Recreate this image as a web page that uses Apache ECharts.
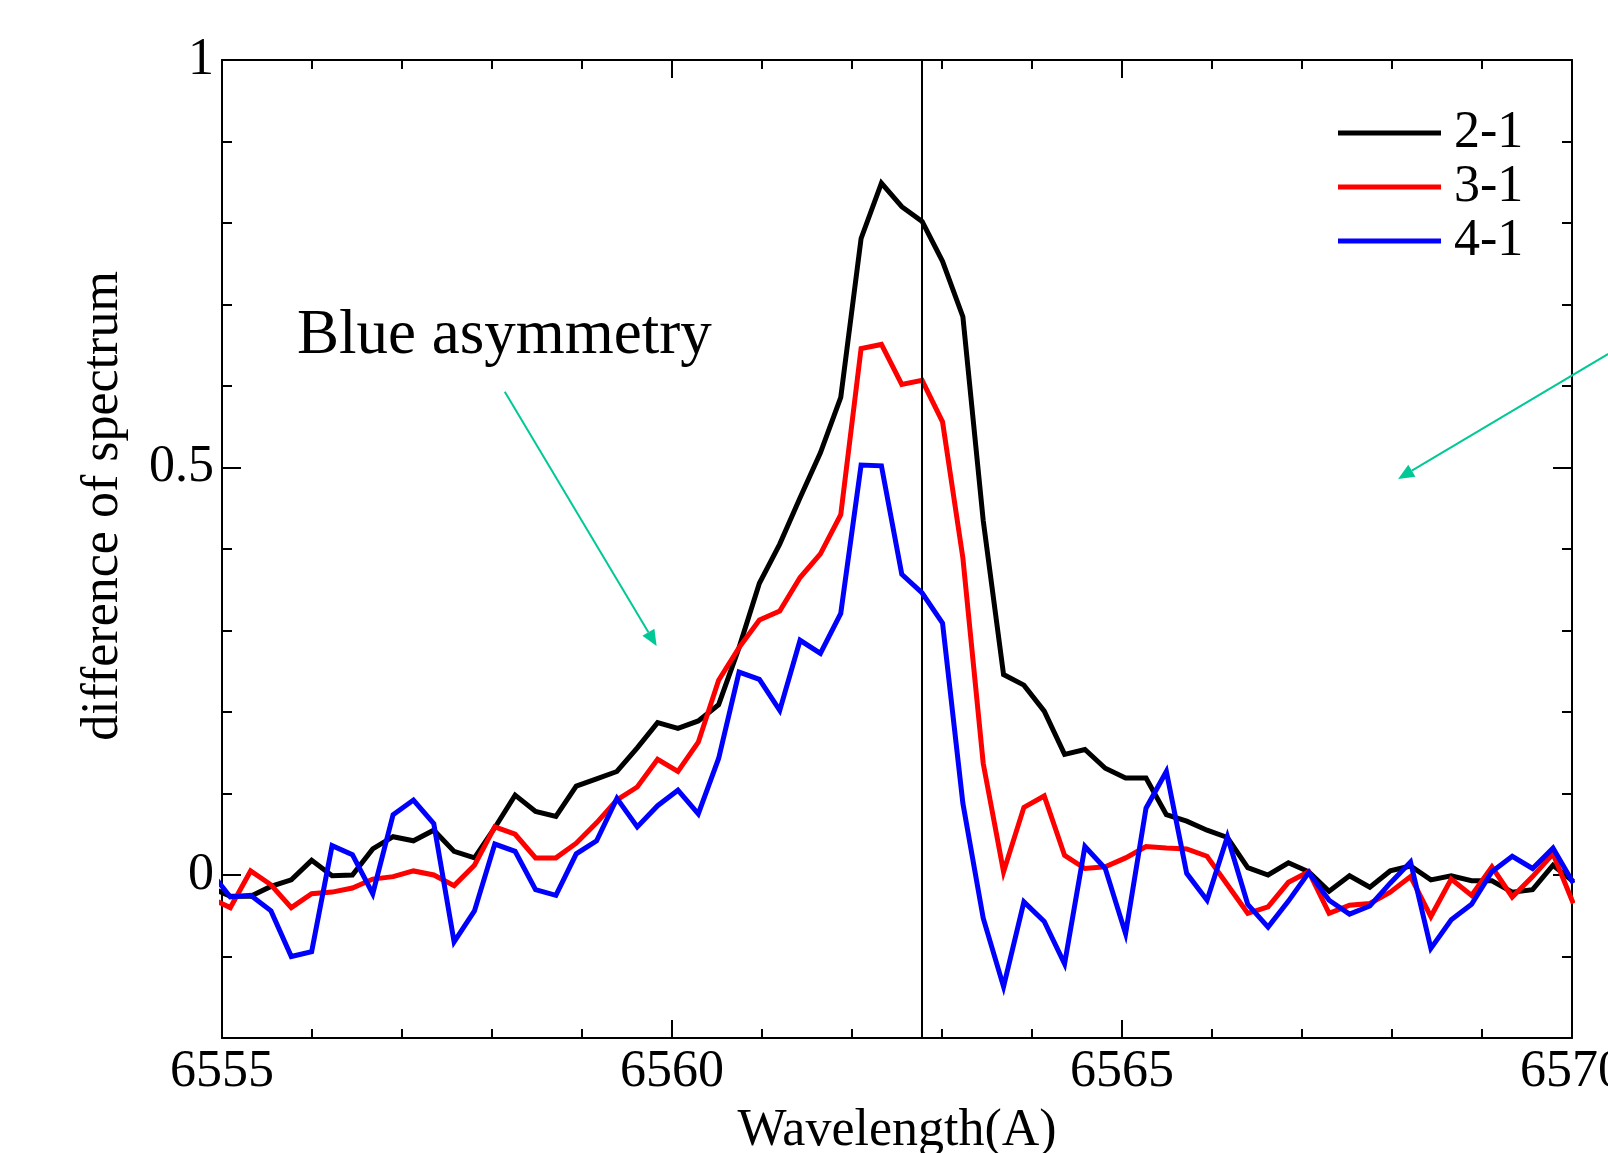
<!DOCTYPE html>
<html><head><meta charset="utf-8">
<script src="https://cdn.jsdelivr.net/npm/echarts@6/dist/echarts.min.js"></script>
<style>html,body{margin:0;padding:0;background:#fff;overflow:hidden}#c{width:1608px;height:1153px}</style>
</head><body><div id="c"></div>
<script>
// ---- data ----
const wavelength = [6554.866, 6555.092, 6555.318, 6555.544, 6555.770, 6555.996, 6556.223, 6556.449, 6556.675, 6556.901,
  6557.127, 6557.353, 6557.579, 6557.805, 6558.031, 6558.257, 6558.484, 6558.710, 6558.936, 6559.162,
  6559.388, 6559.614, 6559.840, 6560.066, 6560.292, 6560.518, 6560.745, 6560.971, 6561.197, 6561.423,
  6561.649, 6561.875, 6562.101, 6562.327, 6562.553, 6562.779, 6563.006, 6563.232, 6563.458, 6563.684,
  6563.910, 6564.136, 6564.362, 6564.588, 6564.814, 6565.040, 6565.267, 6565.493, 6565.719, 6565.945,
  6566.171, 6566.397, 6566.623, 6566.849, 6567.075, 6567.301, 6567.528, 6567.754, 6567.980, 6568.206,
  6568.432, 6568.658, 6568.884, 6569.110, 6569.336, 6569.562, 6569.789, 6570.015];
const diff21 = [-0.015, -0.026, -0.026, -0.014, -0.006, 0.018, -0.001, 0.000, 0.032, 0.047,
  0.042, 0.055, 0.029, 0.021, 0.058, 0.098, 0.078, 0.072, 0.109, 0.118,
  0.127, 0.156, 0.187, 0.180, 0.189, 0.209, 0.279, 0.358, 0.406, 0.463,
  0.518, 0.586, 0.781, 0.849, 0.820, 0.802, 0.753, 0.685, 0.435, 0.246,
  0.233, 0.201, 0.148, 0.154, 0.131, 0.119, 0.119, 0.074, 0.066, 0.055,
  0.046, 0.009, 0.000, 0.015, 0.004, -0.020, -0.001, -0.015, 0.005, 0.011,
  -0.006, -0.001, -0.007, -0.007, -0.021, -0.018, 0.012, -0.008];
const diff31 = [-0.028, -0.040, 0.005, -0.012, -0.040, -0.023, -0.021, -0.016, -0.005, -0.002,
  0.005, 0.000, -0.013, 0.012, 0.059, 0.050, 0.021, 0.021, 0.039, 0.064,
  0.092, 0.108, 0.142, 0.127, 0.163, 0.239, 0.279, 0.313, 0.324, 0.365,
  0.394, 0.442, 0.646, 0.651, 0.602, 0.607, 0.556, 0.389, 0.137, 0.004,
  0.083, 0.097, 0.024, 0.008, 0.010, 0.021, 0.035, 0.033, 0.032, 0.023,
  -0.012, -0.047, -0.039, -0.009, 0.004, -0.047, -0.037, -0.035, -0.021, -0.002,
  -0.051, -0.005, -0.025, 0.010, -0.027, -0.002, 0.026, -0.035];
const diff41 = [0.005, -0.027, -0.025, -0.044, -0.100, -0.094, 0.036, 0.025, -0.023, 0.074,
  0.092, 0.063, -0.082, -0.044, 0.038, 0.029, -0.018, -0.025, 0.026, 0.042,
  0.094, 0.059, 0.085, 0.104, 0.075, 0.143, 0.249, 0.240, 0.202, 0.288,
  0.272, 0.321, 0.503, 0.502, 0.369, 0.346, 0.309, 0.088, -0.053, -0.137,
  -0.033, -0.057, -0.109, 0.035, 0.008, -0.072, 0.082, 0.127, 0.002, -0.031,
  0.047, -0.036, -0.064, -0.032, 0.003, -0.031, -0.048, -0.038, -0.010, 0.016,
  -0.090, -0.055, -0.036, 0.004, 0.023, 0.008, 0.033, -0.010];
const seriesNames = ['2-1', '3-1', '4-1'];
const seriesColors = ['#000000', '#ff0000', '#0000ff'];
const yMajorLabels = [0, 0.5, 1];
const lineCenter = 6562.78;
const annotationText = 'Blue asymmetry';
// arrows in data coordinates: [startX, startY, tipX, tipY]
const arrows = [[6558.142, 0.593, 6559.829, 0.281], [6570.403, 0.6395, 6568.068, 0.486]];

const FONT = '"Liberation Serif", "Times New Roman", serif';
const X_MIN = 6555, X_MAX = 6570, Y_MIN = -0.2, Y_MAX = 1;

function xAxisCfg(pos, showLabels) {
  return {
    type: 'value', position: pos, min: X_MIN, max: X_MAX, interval: 5,
    name: showLabels ? 'Wavelength(A)' : '', nameLocation: 'middle', nameGap: 67,
    nameTextStyle: { fontFamily: FONT, fontSize: 52, color: '#000' },
    axisLine: { show: true, onZero: false, lineStyle: { color: '#000', width: 2 } },
    axisTick: { show: true, inside: true, length: 18, lineStyle: { color: '#000', width: 2 } },
    minorTick: { show: true, splitNumber: 5, length: 9, lineStyle: { color: '#000', width: 2 } },
    axisLabel: { show: showLabels, fontFamily: FONT, fontSize: 52, color: '#000', margin: 8,
      showMinLabel: true, showMaxLabel: true, formatter: v => String(Math.round(v)) },
    splitLine: { show: false }, minorSplitLine: { show: false }
  };
}
function yMajorCfg(pos, showLabels) {
  return {
    type: 'value', position: pos, min: Y_MIN, max: Y_MAX,
    name: showLabels ? 'difference of spectrum' : '', nameLocation: 'middle', nameGap: 93,
    nameTextStyle: { fontFamily: FONT, fontSize: 52, color: '#000', padding: [0, 0, 0, 86] },
    axisLine: { show: true, onZero: false, lineStyle: { color: '#000', width: 2 } },
    axisTick: { show: true, inside: true, length: 19, customValues: yMajorLabels, lineStyle: { color: '#000', width: 2 } },
    axisLabel: { show: showLabels, customValues: yMajorLabels, fontFamily: FONT, fontSize: 52, color: '#000', margin: 8,
      formatter: v => String(Math.round(v * 10) / 10) },
    splitLine: { show: false }
  };
}
function yMinorCfg(pos) {
  return {
    type: 'value', position: pos, min: Y_MIN, max: Y_MAX, interval: 0.1,
    axisLine: { show: false },
    axisTick: { show: true, inside: true, length: 10, lineStyle: { color: '#000', width: 2 } },
    axisLabel: { show: false }, splitLine: { show: false }
  };
}

const values = [diff21, diff31, diff41];
const series = seriesNames.map((n, si) => ({
  name: n, type: 'line', xAxisIndex: 0, yAxisIndex: 0,
  data: wavelength.map((w, i) => [w, values[si][i]]),
  showSymbol: false, symbol: 'none', clip: true, z: 3 + si,
  lineStyle: { color: seriesColors[si], width: 5, join: 'miter' },
  itemStyle: { color: seriesColors[si] },
  emphasis: { disabled: true },
  markLine: si === 0 ? {
    silent: true, symbol: ['none', 'none'], label: { show: false },
    lineStyle: { color: '#000', width: 2, type: 'solid' },
    data: [{ xAxis: lineCenter }], animation: false
  } : undefined
}));

const chart = echarts.init(document.getElementById('c'), null, { renderer: 'canvas' });
chart.setOption({
  animation: false,
  backgroundColor: '#fff',
  grid: { left: 222, right: 36, top: 60, bottom: 115, containLabel: false, outerBoundsMode: 'none' },
  xAxis: [xAxisCfg('bottom', true), xAxisCfg('top', false)],
  yAxis: [yMajorCfg('left', true), yMinorCfg('left'), yMajorCfg('right', false), yMinorCfg('right')],
  legend: {
    data: seriesNames, orient: 'vertical', left: 1338, top: 107, padding: 0, itemGap: 2,
    icon: 'rect', itemWidth: 103, itemHeight: 5, selectedMode: false,
    textStyle: { fontFamily: FONT, fontSize: 52, color: '#000', padding: [0, 0, 0, 8] }
  },
  series: series
});

// annotations (text + arrows), placed through the chart's own scales
const graphics = [{
  type: 'text', x: 297, y: 336, z: 10,
  style: { text: annotationText, font: '63px ' + FONT, fill: '#000', textVerticalAlign: 'middle', textAlign: 'left' }
}];
const ARROW_COLOR = '#00c896';
arrows.forEach(a => {
  const p0 = chart.convertToPixel({ xAxisIndex: 0, yAxisIndex: 0 }, [a[0], a[1]]);
  const p1 = chart.convertToPixel({ xAxisIndex: 0, yAxisIndex: 0 }, [a[2], a[3]]);
  const dx = p1[0] - p0[0], dy = p1[1] - p0[1];
  const L = Math.sqrt(dx * dx + dy * dy);
  const ux = dx / L, uy = dy / L;
  const headLen = 16, headHalf = 7;
  const bx = p1[0] - ux * headLen, by = p1[1] - uy * headLen;
  graphics.push({ type: 'line', z: 10, shape: { x1: p0[0], y1: p0[1], x2: bx, y2: by }, style: { stroke: ARROW_COLOR, lineWidth: 2 } });
  graphics.push({ type: 'polygon', z: 10, shape: { points: [[p1[0], p1[1]], [bx - uy * headHalf, by + ux * headHalf], [bx + uy * headHalf, by - ux * headHalf]] }, style: { fill: ARROW_COLOR } });
});
chart.setOption({ graphic: graphics });
</script>
</body></html>
